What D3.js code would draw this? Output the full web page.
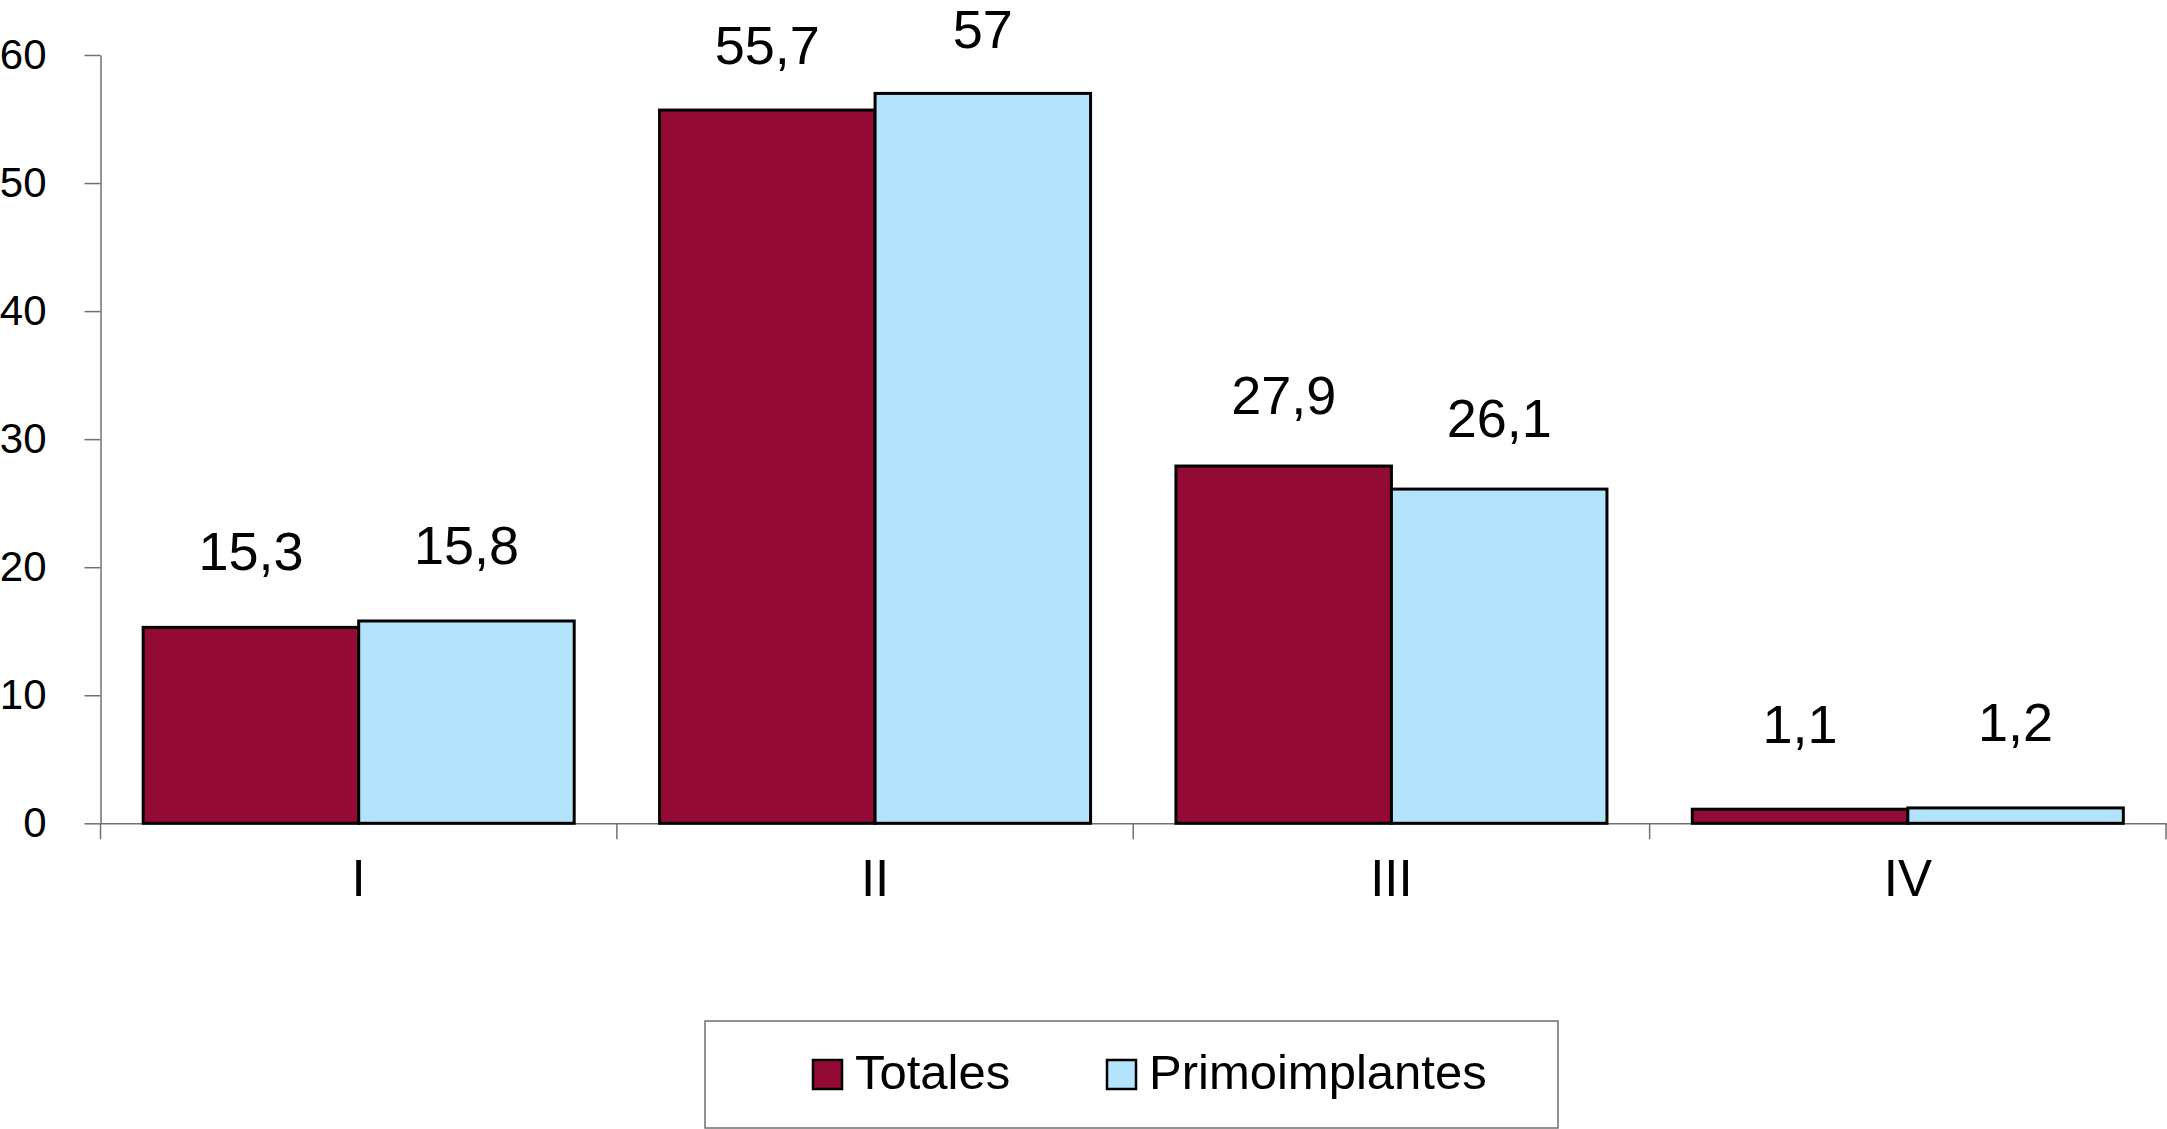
<!DOCTYPE html>
<html>
<head>
<meta charset="utf-8">
<script src="https://cdn.jsdelivr.net/npm/d3@7"></script>
<style>
  html, body { margin: 0; padding: 0; background: #ffffff; }
  svg { display: block; font-family: "Liberation Sans", Arial, Helvetica, sans-serif; }
</style>
</head>
<body>
<svg id="chart" width="2167" height="1129"></svg>
<script>
// ---- data ----
const categories = ["I", "II", "III", "IV"];
const seriesNames = ["Totales", "Primoimplantes"];
const totales = [15.3, 55.7, 27.9, 1.1];
const primoimplantes = [15.8, 57, 26.1, 1.2];
const yTicks = [0, 10, 20, 30, 40, 50, 60];
const seriesColors = ["#930B35", "#B4E4FB"];

// ---- layout ----
const W = 2167, H = 1129;
const plot = { left: 100.5, right: 2166, top: 55, bottom: 823.3 };

const svg = d3.select("#chart");

const x0 = d3.scaleBand().domain(categories).range([plot.left, plot.right]).paddingInner(0).paddingOuter(0);
const x1 = d3.scaleBand().domain(seriesNames).range([0, x0.bandwidth()]).paddingInner(0).paddingOuter(0.198);
const y = d3.scaleLinear().domain([0, 60]).range([plot.bottom, plot.top]);
const color = d3.scaleOrdinal().domain(seriesNames).range(seriesColors);

const locale = d3.formatLocale({ decimal: ",", thousands: ".", grouping: [3], currency: ["", " €"] });
const fmt = locale.format("~g");

const rows = categories.map((c, i) => ({ cat: c, values: [
  { s: seriesNames[0], v: totales[i] },
  { s: seriesNames[1], v: primoimplantes[i] }
]}));

// ---- y axis ----
const yAxis = svg.append("g")
  .attr("transform", `translate(${plot.left},0)`)
  .call(d3.axisLeft(y).tickValues(yTicks).tickSize(16).tickSizeOuter(0).tickPadding(38).tickFormat(d3.format("d")));
yAxis.select(".domain").attr("stroke", "#707070").attr("stroke-width", 1.5);
yAxis.selectAll(".tick line").attr("stroke", "#707070").attr("stroke-width", 1.5);
yAxis.selectAll(".tick text").attr("fill", "#000").style("font-size", "42px");

// ---- x axis ----
const xAxis = svg.append("g")
  .attr("transform", `translate(0,${plot.bottom})`)
  .call(d3.axisBottom(x0).tickSize(0).tickPadding(36));
xAxis.select(".domain").attr("stroke", "#707070").attr("stroke-width", 1.5);
xAxis.selectAll(".tick text").attr("fill", "#000").style("font-size", "51px");

// category boundary ticks
const boundaries = categories.map(c => x0(c)).concat([x0(categories[categories.length - 1]) + x0.step()]);
svg.append("g").selectAll("line").data(boundaries).join("line")
  .attr("x1", d => d).attr("x2", d => d)
  .attr("y1", plot.bottom).attr("y2", plot.bottom + 16)
  .attr("stroke", "#707070").attr("stroke-width", 1.5);

// ---- bars ----
const groups = svg.append("g").selectAll("g").data(rows).join("g")
  .attr("transform", d => `translate(${x0(d.cat)},0)`);

groups.selectAll("rect").data(d => d.values).join("rect")
  .attr("x", d => x1(d.s))
  .attr("y", d => y(d.v))
  .attr("width", x1.bandwidth())
  .attr("height", d => y(0) - y(d.v))
  .attr("fill", d => color(d.s))
  .attr("stroke", "#000")
  .attr("stroke-width", 3);

// value labels (offset above bar top, as in the original rendering)
const labelOffset = v => 67.5 - 0.75 * v + 0.0065 * v * v;
groups.selectAll("text.val").data(d => d.values).join("text")
  .attr("class", "val")
  .attr("x", d => x1(d.s) + x1.bandwidth() / 2)
  .attr("y", d => y(d.v) - labelOffset(d.v))
  .attr("text-anchor", "middle")
  .attr("fill", "#000")
  .style("font-size", "54px")
  .text(d => fmt(d.v));

// ---- legend ----
const legend = svg.append("g");
legend.append("rect")
  .attr("x", 705).attr("y", 1021).attr("width", 853).attr("height", 107)
  .attr("fill", "#fff").attr("stroke", "#6e6e6e").attr("stroke-width", 1.5);

const legendX = [813, 1107];
const li = legend.selectAll("g.item").data(seriesNames).join("g")
  .attr("class", "item")
  .attr("transform", (d, i) => `translate(${legendX[i]},1060)`);
li.append("rect")
  .attr("width", 29).attr("height", 29)
  .attr("fill", d => color(d))
  .attr("stroke", "#000").attr("stroke-width", 2.5);
li.append("text")
  .attr("x", 42).attr("y", 29)
  .attr("fill", "#000")
  .style("font-size", "49px")
  .text(d => d);
</script>
</body>
</html>
